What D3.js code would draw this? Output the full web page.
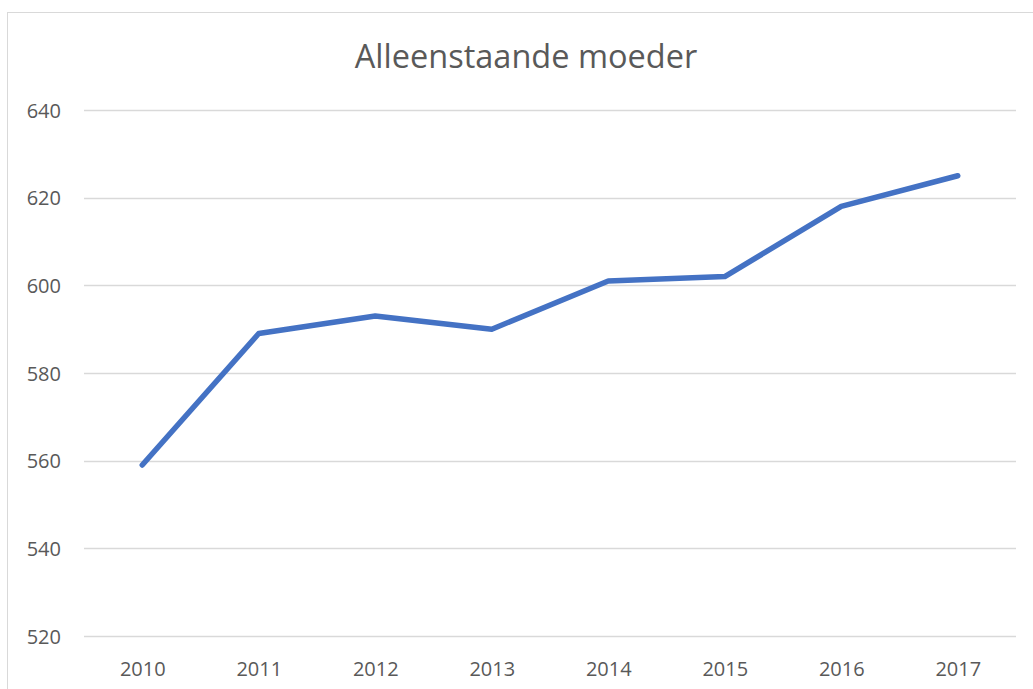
<!DOCTYPE html>
<html>
<head>
<meta charset="utf-8">
<script src="https://cdn.jsdelivr.net/npm/d3@7"></script>
<style>
  html, body { margin: 0; padding: 0; background: #fff; overflow: hidden; }
  svg { display: block; }
</style>
</head>
<body>
<svg id="chart"></svg>
<script>
// --- data ---
const years = ["2010", "2011", "2012", "2013", "2014", "2015", "2016", "2017"];
const values = [559, 589, 593, 590, 601, 602, 618, 625];
const yTicks = [520, 540, 560, 580, 600, 620, 640];
const title = "Alleenstaande moeder";

const svgW = 1033, svgH = 689;
const fontFam = "'Open Sans', sans-serif";
const textCol = "#595959";

const root = d3.select("#chart").attr("width", svgW).attr("height", svgH);

// chart frame (only top + left visible in the crop)
root.append("rect")
  .attr("x", 7.5).attr("y", 12.5)
  .attr("width", 1100).attr("height", 800)
  .attr("fill", "#fff")
  .attr("stroke", "#d9d9d9")
  .attr("stroke-width", 1);

const plot = { left: 84, right: 1016, top: 110, bottom: 636 };

const x = d3.scalePoint().domain(years)
  .range([plot.left, plot.right]).padding(0.5);
const y = d3.scaleLinear().domain([520, 640]).range([plot.bottom, plot.top]);

// gridlines
root.append("g")
  .selectAll("line")
  .data(yTicks)
  .enter()
  .append("line")
  .attr("x1", plot.left).attr("x2", plot.right)
  .attr("y1", d => Math.round(y(d)) + 0.5)
  .attr("y2", d => Math.round(y(d)) + 0.5)
  .attr("stroke", "#d9d9d9")
  .attr("stroke-width", 1.3);

// y axis labels
const yAxis = root.append("g")
  .attr("transform", `translate(${plot.left - 23},0)`)
  .call(d3.axisLeft(y).tickValues(yTicks).tickSize(0).tickPadding(0));
yAxis.select(".domain").remove();
yAxis.selectAll("text")
  .attr("dy", "0.36em")
  .style("font-family", fontFam)
  .style("font-size", "20px")
  .style("fill", textCol);

// x axis labels
const xAxis = root.append("g")
  .attr("transform", `translate(0,${plot.bottom + 40})`)
  .call(d3.axisBottom(x).tickSize(0).tickPadding(0));
xAxis.select(".domain").remove();
xAxis.selectAll("text")
  .attr("dy", 0)
  .style("font-family", fontFam)
  .style("font-size", "20px")
  .style("fill", textCol);

// line
const line = d3.line()
  .x((d, i) => x(years[i]))
  .y(d => y(d));

root.append("path")
  .datum(values)
  .attr("d", line)
  .attr("fill", "none")
  .attr("stroke", "#4472C4")
  .attr("stroke-width", 5.5)
  .attr("stroke-linejoin", "round")
  .attr("stroke-linecap", "round");

// title
root.append("text")
  .attr("x", 526)
  .attr("y", 68)
  .attr("text-anchor", "middle")
  .style("font-family", fontFam)
  .style("font-size", "32.5px")
  .style("fill", textCol)
  .text(title);
</script>
</body>
</html>
